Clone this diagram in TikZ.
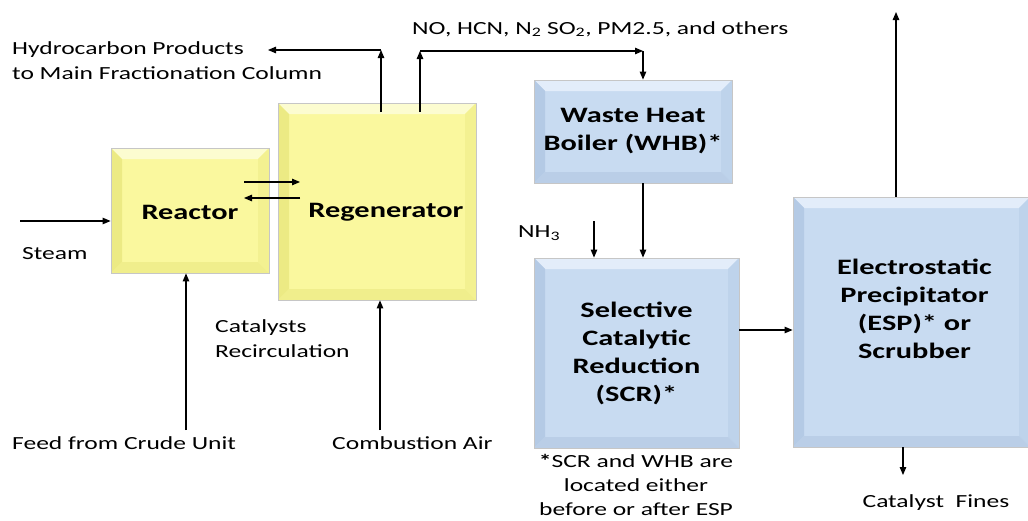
\documentclass[tikz,border=0pt]{standalone}
\usepackage{fontspec}
\setmainfont{Carlito}[FakeStretch=1.38]
\usetikzlibrary{arrows.meta,calc}
\definecolor{yface}{RGB}{250,248,158}
\definecolor{ytop}{RGB}{252,252,208}
\definecolor{yside}{RGB}{236,234,132}
\definecolor{ylow}{RGB}{240,238,140}
\definecolor{bface}{RGB}{200,219,241}
\definecolor{btop}{RGB}{227,237,250}
\definecolor{bside}{RGB}{180,202,229}
\definecolor{blow}{RGB}{186,206,231}
\tikzset{
  bevel/.style n args={4}{fill=#1, draw=gray!45, line width=0.8pt,
    path picture={
      \coordinate (bnw) at (path picture bounding box.north west);
      \coordinate (bne) at (path picture bounding box.north east);
      \coordinate (bsw) at (path picture bounding box.south west);
      \coordinate (bse) at (path picture bounding box.south east);
      \fill[#2] (bnw) -- (bne) -- ([shift={(-11pt,-11pt)}]bne) -- ([shift={(11pt,-11pt)}]bnw) -- cycle;
      \fill[#3] (bnw) -- (bsw) -- ([shift={(11pt,11pt)}]bsw) -- ([shift={(11pt,-11pt)}]bnw) -- cycle;
      \fill[#3!50!#1] (bne) -- (bse) -- ([shift={(-11pt,11pt)}]bse) -- ([shift={(-11pt,-11pt)}]bne) -- cycle;
      \fill[#4] (bsw) -- (bse) -- ([shift={(-11pt,11pt)}]bse) -- ([shift={(11pt,11pt)}]bsw) -- cycle;
    }},
  yunit/.style={bevel={yface}{ytop}{yside}{ylow}},
  bunit/.style={bevel={bface}{btop}{bside}{blow}},
  unit/.style={inner sep=0pt, align=center, font=\fontsize{22}{28}\selectfont\bfseries},
  note/.style={inner sep=0pt, font=\fontsize{18.5}{25}\selectfont},
  flow/.style={line width=1.1pt, -{Triangle[length=8pt,width=6.5pt]}}
}
\begin{document}
\begin{tikzpicture}[x=1pt,y=-1pt]
  \useasboundingbox (0,0) rectangle (1028,520);
  % process units
  \node[unit,yunit,minimum width=158pt,minimum height=125pt,
    label={[unit,yshift=-2pt]center:Reactor}] (reactor) at (190,210.5) {};
  \node[unit,yunit,minimum width=198pt,minimum height=197pt,
    label={[unit,xshift=9pt,yshift=-11pt]center:Regenerator}] (regen) at (377,201.5) {};
  \node[unit,bunit,minimum width=198pt,minimum height=103pt] (whb) at (633,131.5)
    {Waste Heat\\Boiler (WHB)*};
  \node[unit,bunit,minimum width=205pt,minimum height=190pt] (scr) at (636.5,353)
    {Selective\\Catalytic\\Reduction\\(SCR)*};
  \node[unit,bunit,minimum width=237pt,minimum height=250pt,
    label={[unit,xshift=3pt,yshift=13pt]center:{Electrostatic\\Precipitator\\(ESP)* or\\Scrubber}}]
    (esp) at (911.5,322) {};
  % stream labels
  \node[note,anchor=west,align=left] (hcprod) at (12,60.5)
    {Hydrocarbon Products\\to Main Fractionation Column};
  \node[note,anchor=west] (flue) at (412,29)
    {NO, HCN, N\textsubscript{2} SO\textsubscript{2}, PM2.5, and others};
  \node[note,anchor=west] (steam) at (22,254) {Steam};
  \node[note,anchor=west,align=left] (recirc) at (215,339) {Catalysts\\Recirculation};
  \node[note,anchor=west] (feed) at (12,443) {Feed from Crude Unit};
  \node[note,anchor=west] (air) at (332,443) {Combustion Air};
  \node[note,anchor=west] (nh3) at (518,233) {NH\textsubscript{3}};
  \node[note,align=center,font=\fontsize{18.5}{24}\selectfont] (remark) at (636,484.5)
    {\textbf{*}SCR and WHB are\\located either\\before or after ESP};
  \node[note] (fines) at (936,503) {Catalyst~~Fines};
  % free ends of the streams
  \coordinate (steamin) at (20,221);
  \coordinate (feedin) at (186,430);
  \coordinate (airin) at (380,430);
  \coordinate (catfwd) at (244,182);
  \coordinate (catback) at (300,198);
  \coordinate (hcfoot) at (381,112);
  \coordinate (hcturn) at (381,50);
  \coordinate (hcend) at (268,50);
  \coordinate (gasfoot) at (420,112);
  \coordinate (gasturn) at (420,51);
  \coordinate (gascorner) at (643,51);
  \coordinate (nh3in) at (594,221);
  \coordinate (stacktop) at (896,12);
  \coordinate (finesout) at (903,475);
  % connectors
  \draw[flow] (steamin) -- (steamin -| reactor.west);
  \draw[flow] (feedin) -- (feedin |- reactor.south);
  \draw[flow] (airin) -- (airin |- regen.south);
  \draw[flow] (catfwd) -- (catfwd -| catback);
  \draw[flow] (catback) -- (catback -| catfwd);
  \draw[flow] (hcfoot) -- (hcturn);
  \draw[flow] (hcturn) -- (hcend);
  \draw[flow] (gasfoot) -- (gasturn);
  \draw[flow] (gasturn) -- (gascorner);
  \draw[flow] (gascorner) -- (gascorner |- whb.north);
  \draw[flow] (gascorner |- whb.south) -- (gascorner |- scr.north);
  \draw[flow] (nh3in) -- (nh3in |- scr.north);
  \draw[flow] ([yshift=23pt]scr.east) -- ([yshift=23pt]scr.east -| esp.west);
  \draw[flow] (stacktop |- esp.north) -- (stacktop);
  \draw[flow] (finesout |- esp.south) -- (finesout);
\end{tikzpicture}
\end{document}
